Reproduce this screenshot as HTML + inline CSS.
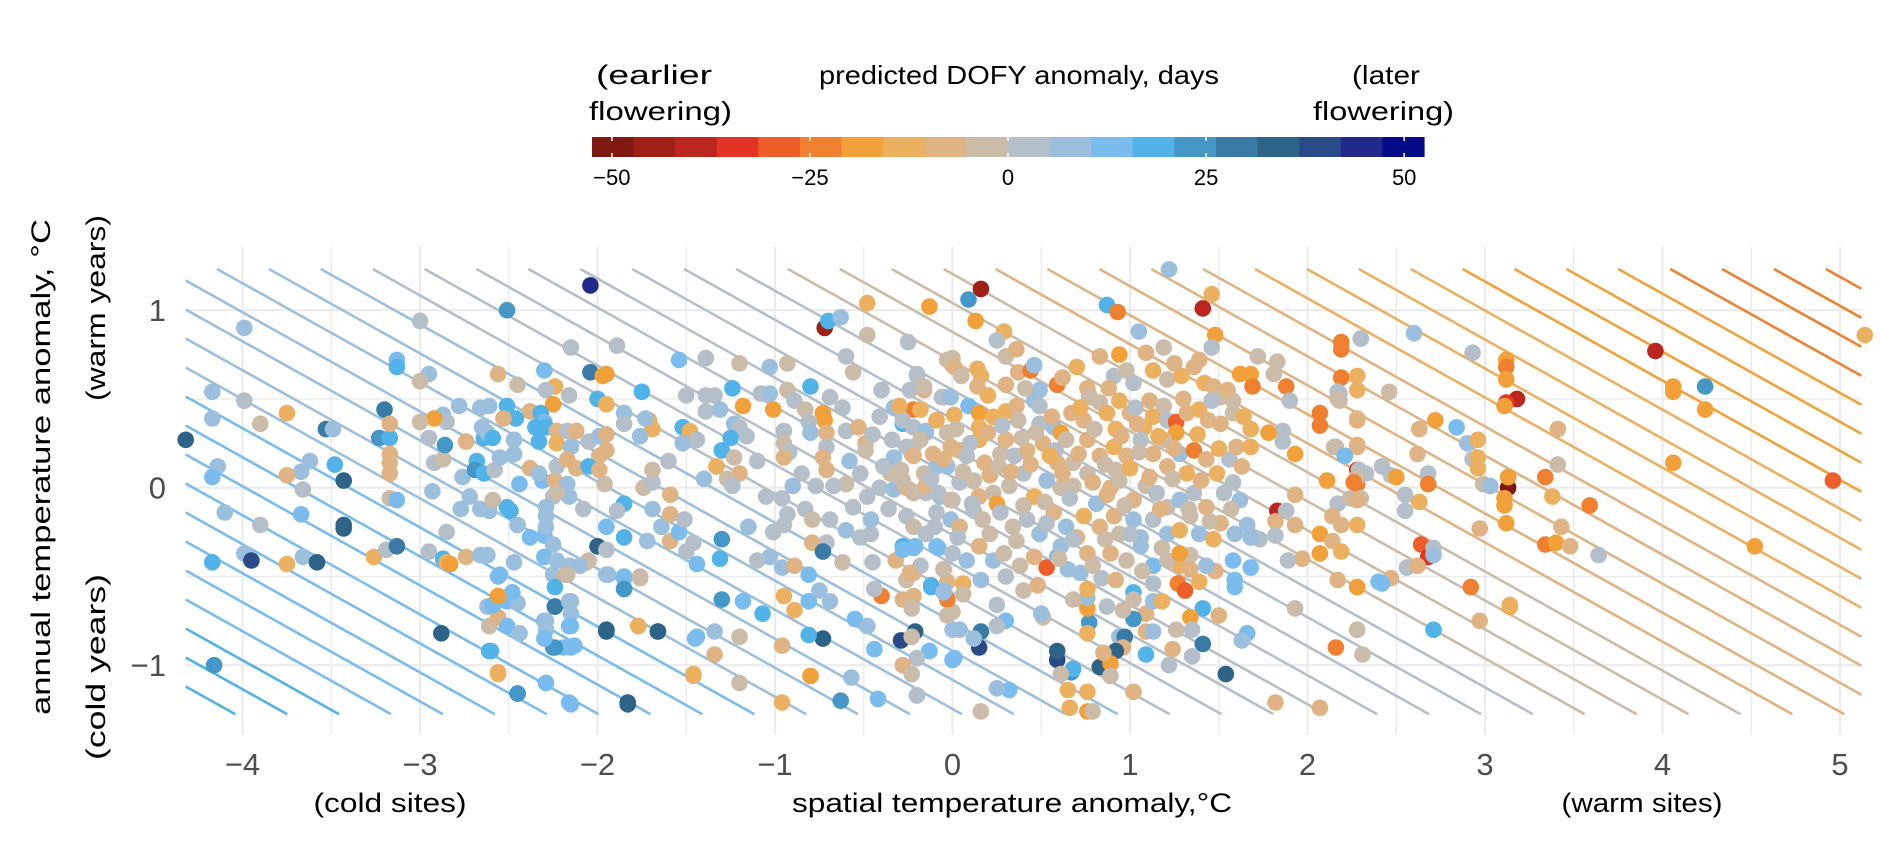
<!DOCTYPE html>
<html><head><meta charset="utf-8"><title>predicted DOFY anomaly</title>
<style>
html,body{margin:0;padding:0;background:#fff;}
svg{display:block;font-family:"Liberation Sans",Arial,sans-serif;}
</style></head>
<body>
<svg id="chart" width="1880" height="842" viewBox="0 0 1880 842" xmlns="http://www.w3.org/2000/svg">
<rect x="0" y="0" width="1880" height="842" fill="#fff"/>
<g id="legend">
<text x="1019" y="84" text-anchor="middle" font-size="26" textLength="400" lengthAdjust="spacingAndGlyphs">predicted DOFY anomaly, days</text>
<text x="596" y="84" font-size="27" textLength="116" lengthAdjust="spacingAndGlyphs">(earlier</text>
<text x="589" y="120" font-size="26" textLength="143" lengthAdjust="spacingAndGlyphs">flowering)</text>
<text x="1352" y="84" font-size="26" textLength="68" lengthAdjust="spacingAndGlyphs">(later</text>
<text x="1313" y="120" font-size="26" textLength="141" lengthAdjust="spacingAndGlyphs">flowering)</text>
<g id="colorbar"></g>
</g>
<g id="panel">
<g id="grid"></g>
<g id="contours"></g>
<g id="points"></g>
</g>
<g id="xaxis"></g>
<g id="yaxis"></g>
<text x="1012" y="812" text-anchor="middle" font-size="27" textLength="440" lengthAdjust="spacingAndGlyphs">spatial temperature anomaly,°C</text>
<text x="390" y="812" text-anchor="middle" font-size="27" textLength="153" lengthAdjust="spacingAndGlyphs">(cold sites)</text>
<text x="1642" y="812" text-anchor="middle" font-size="27" textLength="161" lengthAdjust="spacingAndGlyphs">(warm sites)</text>
<text transform="translate(50,467) rotate(-90)" text-anchor="middle" font-size="27" textLength="496" lengthAdjust="spacingAndGlyphs">annual temperature anomaly, °C</text>
<text transform="translate(105,308) rotate(-90)" text-anchor="middle" font-size="27" textLength="186" lengthAdjust="spacingAndGlyphs">(warm years)</text>
<text transform="translate(105,667) rotate(-90)" text-anchor="middle" font-size="27" textLength="186" lengthAdjust="spacingAndGlyphs">(cold years)</text>
</svg>
<script>
// ---- chart data ----
const xTicks = [-4,-3,-2,-1,0,1,2,3,4,5];
const yTicks = [-1,0,1];
const legendTicks = [-50,-25,0,25,50];
const paletteColors = ["#7e1a12","#a01f17","#bb271e","#e33324","#ee5e2b","#ef8030","#f2a13a","#ebb060","#dfb383","#cbbba9","#b5bfc9","#9bbfdc","#79bced","#52b3e8","#4597c8","#397ba5","#2d6386","#2a4a87","#22298a","#050a87"];
const legendRange = [-52.5, 52.5];
// contour model: index v = x + contourYWeight*y ; days = slope*(v - contourZero), slope differs on cool/warm side
const contourYWeight = [1.79];
const contourZero = [1.2];
const contourSlopeCool = [-2.3];
const contourSlopeWarm = [-4.3];
const contourLevels = [];
for (let k=-18;k<=32;k++) contourLevels.push(+(-1.646 + k*0.2924).toFixed(4));
// points: [spatial anomaly °C, annual anomaly °C, predicted DOFY anomaly days]
const points = [
[-3.99,0.90,8],[-3.0,0.94,1],[-4.17,0.54,8],[-3.99,0.49,3],[-4.17,0.39,8],[-3.75,0.42,-12],[-3.9,0.36,-2],[-4.32,0.27,34],[-3.53,0.33,29],[-3.49,0.33,8],[-3.2,0.44,29],[-3.23,0.28,24],[-3.17,0.28,18],[-3.17,0.36,-8],[-3.17,0.19,-8],[-3.17,0.14,-8],[-3.17,0.08,-8],[-3.17,-0.06,-3],[-3.13,-0.07,13],
[-3.62,0.15,8],[-3.67,0.09,8],[-3.75,0.07,-8],[-3.48,0.13,18],[-3.43,0.04,34],[-3.66,-0.01,2],[-4.14,0.12,8],[-4.17,0.06,13],[-4.10,-0.14,8],[-3.9,-0.21,1],[-3.67,-0.15,13],[-3.43,-0.21,34],[-3.43,-0.23,34],
[-3.99,-0.37,8],[-3.95,-0.41,39],[-4.17,-0.42,18],[-3.75,-0.43,-12],[-3.66,-0.39,8],[-3.58,-0.42,34],[-3.26,-0.39,-12],[-3.19,-0.35,1],[-3.13,-0.33,29],[-2.95,-0.36,2],[-2.87,-0.4,18],[-2.85,-0.42,-13],[-2.74,-0.39,-8],[-2.66,-0.38,8],
[-2.85,-0.25,2],[-2.93,-0.02,8],[-2.92,0.14,2],[-2.87,0.16,-3],[-2.86,0.24,24],[-2.74,0.26,-8],[-2.76,0.06,8],[-2.72,-0.05,8],[-2.77,-0.12,8],[-2.66,-0.12,8],[-2.68,0.15,18],[-2.69,0.1,24],[-2.64,0.28,18],[-2.66,0.45,8],[-2.65,0.34,8],
[-2.78,0.46,8],[-2.87,0.41,8],[-2.85,0.37,2],[-2.92,0.39,-18],[-3.0,0.37,-3],[-2.95,0.28,2],[-2.95,0.64,8],[-3.0,0.60,-3],[-3.13,0.72,13],[-3.13,0.68,18],[-2.88,-0.82,34],
[-4.16,-1.0,24],[-2.56,-1.04,-13],[-2.6,-0.92,18],[-2.45,-1.16,24],[-2.29,-1.10,13],[-2.15,-1.22,13],[-1.83,-1.22,34],[-1.95,-0.81,34],[-1.77,-0.78,-13],[-1.66,-0.81,34],[-1.46,-1.06,-8],[-1.45,-0.85,13],[-2.25,-0.90,24],[-2.19,-0.90,13],[-2.15,-0.90,13],[-2.3,-0.75,13],[-2.29,-0.8,8],[-2.24,-0.67,24],[-2.15,-0.64,8],[-2.15,-0.71,8],[-2.15,-0.78,13],[-2.51,-0.78,18],[-2.44,-0.82,8],[-2.61,-0.78,-3],[-2.56,-0.73,-8],[-2.62,-0.67,8],[-2.59,-0.67,13],[-2.56,-0.61,-18],[-2.51,-0.64,13],[-2.45,-0.65,8],[-2.48,-0.59,13],[-2.56,-0.5,13],[-2.25,-0.49,8],[-2.18,-0.49,-8],[-1.95,-0.49,8],[-1.85,-0.5,13],[-1.85,-0.57,18],[-1.76,-0.5,-3],[-2.06,-0.42,-3],[-2.83,-0.43,-18],
[-2.04,1.14,45],[-2.51,1.0,24],[-2.15,0.79,2],[-1.89,0.80,5],[-1.54,0.72,13],[-1.39,0.73,1],[-1.20,0.70,-2],[-1.03,0.68,8],[-0.93,0.70,-3],[-0.72,0.90,-44],[-0.70,0.94,18],[-0.63,0.96,8],[-0.48,1.04,-13],[-0.13,1.02,-18],[-0.48,0.86,-3],[-0.25,0.82,5],[-0.60,0.74,1],[-0.56,0.65,-3],[0.0,0.73,-3],[0.0,0.69,-12],[-0.20,0.64,2],[-0.16,0.55,-8],[-0.05,0.51,8],
[-2.56,0.64,-8],[-2.30,0.66,13],[-2.04,0.65,29],[-1.97,0.63,-18],[-1.95,0.64,-18],[-2.45,0.58,-3],[-2.24,0.57,-13],[-2.29,0.55,2],[-2.16,0.52,2],[-2.0,0.50,18],[-1.95,0.47,-12],[-1.75,0.54,18],[-2.25,0.47,-18],[-2.51,0.46,18],[-2.61,0.46,8],[-2.38,0.43,-8],[-2.46,0.39,18],[-2.53,0.39,-8],[-2.32,0.42,18],[-2.30,0.37,13],[-2.35,0.34,18],[-2.29,0.34,18],[-2.23,0.32,-8],[-2.17,0.32,2],[-2.12,0.32,-8],[-2.33,0.26,18],[-2.23,0.25,-12],[-2.15,0.23,8],[-2.05,0.26,2],[-1.99,0.29,8],[-1.95,0.30,-8],[-1.95,0.21,-8],[-1.99,0.18,-8],
[-1.85,0.42,8],[-1.85,0.36,2],[-1.71,0.38,-13],[-1.69,0.33,-13],[-1.73,0.39,8],[-1.76,0.29,8],[-1.52,0.34,18],[-1.48,0.32,-13],[-1.52,0.25,8],[-1.44,0.27,2],[-1.50,0.52,2],[-1.39,0.52,2],[-1.39,0.43,2],[-1.34,0.52,2],[-1.24,0.56,18],[-1.18,0.46,-18],[-1.31,0.44,8],[-1.23,0.36,8],[-1.20,0.34,2],[-1.16,0.29,2],[-1.25,0.28,18],[-1.30,0.21,18],[-1.23,0.17,-3],[-1.33,0.12,-12],[-1.20,0.08,-8],[-1.27,0.05,-3],[-1.24,0.01,2],
[-1.08,0.53,2],[-1.03,0.53,8],[-1.01,0.44,-18],[-0.93,0.55,-3],[-0.89,0.49,2],[-0.80,0.57,18],[-0.69,0.51,2],[-0.73,0.42,-18],[-0.72,0.38,-18],[-0.83,0.44,-3],[-0.81,0.37,2],[-0.80,0.31,8],[-0.95,0.32,2],[-0.95,0.25,-3],[-0.92,0.20,2],[-0.95,0.17,-8],[-0.71,0.31,-8],[-0.71,0.23,2],[-0.73,0.17,-8],[-0.71,0.10,-8],[-0.60,0.32,2],[-0.53,0.34,-8],[-0.49,0.25,-8],[-0.49,0.21,-3],[-0.58,0.15,8],[-0.52,0.08,2],
[-0.41,0.40,2],[-0.33,0.45,8],[-0.22,0.44,-23],[-0.28,0.36,18],[-0.22,0.34,2],[-0.15,0.32,8],[-0.09,0.38,-13],[-0.03,0.31,-8],[-0.33,0.17,8],[-0.22,0.23,2],[-0.23,0.19,-3],[-0.09,0.12,8],[0.0,0.22,-8],[-0.35,0.08,-3],[-0.29,0.10,-3],[-0.16,0.08,-3],
[-0.41,0.0,2],[-0.33,-0.01,8],[-0.26,0.0,-8],[-0.22,-0.03,-3],[-0.15,-0.03,2],[-0.07,-0.05,8],[0.0,-0.07,2],[-0.48,-0.05,2],[-0.56,-0.11,2],[-0.60,0.02,-3],[-0.67,0.01,2],[-0.77,0.01,2],[-0.90,0.01,8],[-0.96,-0.06,2],[-0.83,-0.12,2],[-0.79,-0.18,-3],[-0.69,-0.18,2],[-0.60,-0.24,8],[-0.52,-0.28,2],[-0.46,-0.26,2],[-0.71,-0.31,2],[-0.79,-0.31,-8],[-0.73,-0.36,29],[-0.95,-0.21,2],[-0.93,-0.15,2],[-1.01,-0.25,2],[-1.03,-0.39,8],[-0.96,-0.45,8],[-0.89,-0.44,-8],[-1.10,-0.41,2],[-0.81,-0.49,13],[-0.62,-0.42,-3],[-0.45,-0.42,2],[-0.32,-0.41,-8],[-0.28,-0.33,18],[-0.21,-0.33,13],[-0.22,-0.48,-8],[-0.26,-0.52,-3],[-0.12,-0.55,18],[-0.05,-0.46,2],[-0.03,-0.53,-8],[-0.05,-0.58,8],[-0.03,-0.63,-23],[0.0,-0.70,-3],[-0.22,-0.61,-8],[-0.28,-0.63,-8],[-0.23,-0.68,-3],[-0.40,-0.61,-23],[-0.44,-0.57,2],
[0.0,-0.80,8],[-0.13,-0.92,18],[0.0,-0.97,13],[-0.29,-0.86,39],[-0.21,-0.81,34],[-0.23,-0.84,-3],[-0.20,-0.96,2],[-0.28,-1.0,-8],[-0.23,-1.05,-3],[-0.20,-1.17,2],[-0.44,-0.91,13],[-0.42,-1.19,13],[-0.55,-0.74,13],[-0.48,-0.78,8],[-0.57,-1.07,8],[-0.63,-1.20,24],[-0.73,-0.85,34],[-0.81,-0.83,18],[-0.80,-1.06,-18],[-0.96,-0.89,-8],[-0.96,-1.21,-13],[-0.89,-0.69,-13],[-0.95,-0.61,-13],[-0.69,-0.64,8],[-0.81,-0.64,13],[-0.75,-0.58,8],[-1.07,-0.71,18],[-1.18,-0.64,13],[-1.30,-0.63,24],[-1.20,-0.84,-3],[-1.34,-0.81,8],[-1.44,-0.84,13],[-1.34,-0.94,-8],[-1.46,-1.05,-13],[-1.20,-1.10,-3],
[-1.31,-0.40,18],[-1.30,-0.29,24],[-1.44,-0.43,13],[-1.50,-0.36,2],[-1.46,-0.31,2],[-1.59,-0.30,-8],[-1.54,-0.25,13],[-1.64,-0.22,8],[-1.69,-0.12,8],[-1.59,-0.15,-8],[-1.51,-0.18,2],[-1.59,-0.04,-8],[-1.72,-0.30,8],[-1.85,-0.28,18],[-1.74,0.0,-3],[-1.69,0.03,2],[-1.69,0.10,-3],[-1.85,-0.09,18],[-1.89,-0.13,2],[-1.95,-0.22,13],[-2.0,-0.33,34],[-1.95,-0.35,2],[-2.05,-0.41,-3],[-1.94,-0.49,8],[-1.85,-0.51,13],[-1.85,-0.57,24],[-1.76,-0.51,-3],[-1.95,-0.80,34],[-1.77,-0.78,-13],[-1.66,-0.81,34],[-1.83,-1.21,34],
[-2.24,-0.67,29],[-2.16,-0.64,8],[-2.16,-0.78,13],[-2.24,-0.90,24],[-2.30,-0.85,13],[-2.29,-0.75,8],[-2.13,-0.89,13],[-2.29,-1.10,13],[-2.16,-1.21,13],[-2.45,-1.16,24],[-2.61,-0.92,18],[-2.56,-1.05,-13],[-2.61,-0.78,-3],[-2.56,-0.73,-8],[-2.51,-0.78,13],[-2.44,-0.82,8],[-2.59,-0.66,13],[-2.48,-0.59,13],[-2.56,-0.61,-18],[-2.55,-0.49,13],[-2.47,-0.42,8],[-2.62,-0.38,8],[-2.38,-0.28,13],[-2.30,-0.27,13],[-2.25,-0.32,8],[-2.30,-0.39,13],[-2.23,-0.41,8],[-2.24,-0.56,18],[-2.16,-0.44,8],[-2.10,-0.44,8],[-2.17,-0.49,-3],
[-2.08,-0.12,2],[-2.16,-0.05,8],[-2.25,-0.05,2],[-2.29,-0.11,8],[-2.29,-0.16,8],[-2.29,-0.22,8],[-2.49,-0.13,18],[-2.51,-0.11,18],[-2.61,-0.13,8],[-2.45,-0.21,8],[-2.59,-0.07,-3],[-2.64,0.08,18],[-2.58,0.10,2],[-2.55,0.17,8],[-2.47,0.19,8],[-2.47,0.27,8],[-2.62,0.31,8],[-2.59,0.28,18],[-2.38,0.11,-8],[-2.44,0.02,13],[-2.31,0.04,13],[-2.33,0.08,8],[-2.24,0.04,-8],[-2.23,0.12,2],[-2.17,0.16,-8],[-2.12,0.11,-8],[-2.17,0.02,8],[-2.23,-0.03,-3],[-2.05,0.12,18],[-1.99,0.10,-8],[-1.96,0.02,-3],
[1.22,1.23,8],[0.16,1.12,-44],[0.09,1.06,24],[0.13,0.94,-18],[0.29,0.88,-13],[0.25,0.83,2],[0.87,1.03,18],[0.93,0.99,-23],[1.41,1.01,-39],[1.46,1.09,-13],[1.05,0.88,8],[1.48,0.86,-18],[1.46,0.79,5],[2.19,0.82,-23],[2.19,0.78,-23],[2.30,0.84,1],[1.72,0.74,-3],[1.83,0.71,-3],[1.62,0.64,-18],[1.68,0.64,-18],[1.69,0.57,-23],[1.88,0.57,-23],[1.90,0.49,2],[1.81,0.64,-3],[2.19,0.62,-23],[2.28,0.63,-13],[2.28,0.55,-13],[2.18,0.53,2],[2.18,0.49,-3],[2.07,0.42,-23],[2.07,0.35,-23],[2.28,0.38,-13],[2.15,0.23,-3],[2.21,0.18,13],[1.93,0.19,-18],[1.86,0.32,2],[1.86,0.26,5],[1.78,0.31,-18],[2.28,0.24,-13],[2.28,0.10,-34],[2.28,0.06,-8],[2.28,0.02,-23],[2.33,0.08,2],[2.11,0.04,-18],[1.93,-0.04,-8],[1.83,-0.13,-39],[1.88,-0.13,2],[1.82,-0.19,-8],[1.93,-0.21,-8],[2.17,-0.09,2],[2.24,-0.06,-3],[2.30,-0.06,-3],[2.14,-0.16,-8],[2.19,-0.21,-8],[2.28,-0.21,-13],[2.07,-0.26,-18],[2.07,-0.37,-18],[2.14,-0.30,-8],[2.19,-0.36,-13],[1.97,-0.40,-8],[1.89,-0.41,2],[1.82,-0.27,2],[1.73,-0.29,2],[1.68,-0.28,8],[1.59,-0.26,8],[1.66,-0.21,8],[1.58,-0.41,13],[1.68,-0.45,13],[1.59,-0.52,13],[1.59,-0.56,13],[2.17,-0.52,-8],[2.28,-0.56,-18],[1.93,-0.68,-3],[2.28,-0.80,-3],[2.16,-0.90,-23],[2.31,-0.94,-3],[2.40,-0.53,13],[1.66,-0.82,13],[1.63,-0.86,8],[1.82,-1.21,-8],[2.07,-1.24,-8],[1.54,-1.05,34],[1.41,-0.88,29],[1.50,-0.72,-8],[1.41,-0.68,18],[1.34,-0.73,-18],[1.35,-0.80,2],[1.26,-0.80,-3],[1.24,-0.91,-8],[1.35,-0.95,2],[1.22,-1.0,2],[1.02,-1.15,-8],[1.09,-0.94,18],[1.09,-0.81,-8],[1.13,-0.81,8],[1.09,-0.71,-8],[1.13,-0.64,8],[1.18,-0.64,-13],[1.02,-0.74,24],[0.94,-0.84,8],[0.97,-0.84,29],[0.96,-0.90,-8],[0.92,-0.92,34],[0.83,-1.01,34],[0.89,-0.99,-18],[0.89,-1.06,-3],[0.85,-0.93,-8],[0.76,-1.15,-13],[0.76,-1.26,-18],[0.79,-1.26,-3],[0.65,-1.14,-13],[0.66,-1.24,-13],[0.59,-0.97,39],[0.59,-0.92,34],[0.67,-1.04,24],[0.68,-1.02,18],[0.61,-1.05,-3],[0.77,-0.76,24],[0.76,-0.82,-13],[0.76,-0.68,-18],[0.76,-0.62,8],[0.76,-0.57,-13],[0.51,-0.73,-3],[0.50,-0.71,8],[0.32,-1.14,13],[0.25,-1.13,8],[0.16,-1.26,-3],[0.16,-0.81,29],[0.15,-0.90,39],[0.12,-0.85,8],[0.04,-0.80,8],[0.01,-0.96,13],[-0.13,-0.92,13],[-0.20,-0.96,2],[-0.20,-1.17,2],[0.25,-0.66,2],[0.30,-0.75,13],[0.25,-0.78,2],[-0.12,-0.56,18],[-0.03,-0.63,-23],[-0.03,-0.72,-3],[0.06,-0.54,-13],[0.06,-0.60,-3],[0.16,-0.52,8],[-0.05,-0.59,8],[0.53,-0.45,-28],[0.59,-0.39,13],[0.61,-0.33,8],[0.48,-0.55,-8],[0.68,-0.63,-3],[0.65,-0.46,8],[0.72,-0.48,8],[0.87,-0.67,2],[0.84,-0.51,2],[1.02,-0.59,18],[1.02,-0.63,-3],[0.96,-0.69,-3],[1.13,-0.44,13],[1.13,-0.54,2],[1.28,-0.44,-13],[1.27,-0.54,-23],[1.31,-0.58,-28],[1.39,-0.53,-13],[1.48,-0.47,-8],[1.34,-0.38,-3],[-0.28,-0.35,13],[-0.22,-0.34,13],[-0.08,-0.34,13],[-0.18,-0.44,2],[-0.24,-0.48,-8],[-0.05,-0.46,-3],
[-0.03,0.72,-3],[0.01,0.68,-8],[0.05,0.63,-3],[0.14,0.67,-13],[0.16,0.63,-13],[0.14,0.57,-8],[0.30,0.74,-3],[0.36,0.78,-8],[0.37,0.65,-8],[0.44,0.66,-23],[0.46,0.69,8],[0.59,0.58,-23],[0.49,0.55,8],[0.76,0.56,-8],[0.77,0.52,-8],[0.83,0.74,-8],[0.91,0.63,2],[0.94,0.75,-18],[0.98,0.66,-3],[1.02,0.59,2],[1.09,0.76,-8],[1.13,0.66,-13],[1.19,0.79,-3],[1.21,0.61,-3],[1.29,0.63,-13],[1.36,0.68,-8],[1.39,0.72,-8],[1.42,0.59,-13],[1.47,0.57,-8],[1.51,0.51,-3],[1.58,0.49,-3],[-0.20,0.63,2],[-0.24,0.55,2],[-0.16,0.57,-3],[-0.06,0.51,2],[-0.01,0.51,8],
[-0.28,0.38,2],[-0.30,0.46,-13],[-0.18,0.44,-13],[-0.15,0.31,8],[-0.09,0.38,-13],[-0.03,0.31,-3],[0.01,0.41,-13],[0.09,0.46,13],[0.15,0.42,-18],[0.15,0.34,-13],[0.23,0.40,-13],[0.30,0.43,-13],[0.36,0.46,-8],[0.37,0.38,-3],[0.46,0.49,8],[0.49,0.55,8],[0.49,0.46,2],[0.49,0.36,2],[0.57,0.34,8],[0.61,0.31,-18],[0.67,0.42,-8],[0.74,0.38,-8],[0.77,0.51,-3],[0.83,0.48,-3],[0.87,0.42,-13],[0.92,0.33,-13],[0.94,0.49,-13],[1.0,0.42,-8],[1.03,0.45,2],[1.08,0.34,-13],[1.13,0.40,-13],[1.19,0.46,-3],[1.21,0.38,2],[1.26,0.37,-28],[1.26,0.31,-18],[1.32,0.42,-8],[1.39,0.44,-13],[1.46,0.49,2],[1.51,0.36,-8],[1.58,0.42,-3],[1.64,0.40,-13],[1.68,0.33,-13],
[-0.26,0.23,2],[-0.22,0.18,-8],[-0.11,0.19,-8],[-0.03,0.12,8],[-0.01,0.23,-8],[0.04,0.21,-8],[0.08,0.18,2],[0.15,0.27,-13],[0.18,0.14,-8],[0.27,0.19,-3],[0.30,0.27,-8],[0.35,0.18,2],[0.42,0.21,-8],[0.51,0.25,-8],[0.58,0.21,2],[0.59,0.14,-8],[0.68,0.14,-3],[0.76,0.27,-8],[0.83,0.18,-8],[0.91,0.23,-13],[0.92,0.10,-3],[0.98,0.18,-8],[1.06,0.27,2],[1.13,0.19,-8],[1.19,0.27,-3],[1.21,0.12,-8],[1.28,0.19,8],[1.32,0.08,-13],[1.36,0.21,-23],[1.43,0.16,-8],[1.49,0.08,-13],[1.56,0.16,2],[1.60,0.23,-8],[1.68,0.23,-13],
[-0.28,0.04,-3],[-0.22,-0.03,-3],[-0.15,0.01,-8],[-0.08,-0.03,2],[-0.01,-0.07,-3],[0.04,0.03,2],[0.12,0.04,-3],[0.15,-0.05,-8],[0.23,-0.03,-3],[0.25,-0.09,-18],[0.32,0.01,-3],[0.40,0.08,2],[0.46,-0.05,-13],[0.53,0.04,8],[0.61,0.0,-3],[0.68,0.01,-3],[0.76,0.08,-3],[0.81,-0.09,8],[0.89,0.0,-8],[0.94,0.04,-3],[1.02,-0.07,-8],[1.09,0.01,-3],[1.15,-0.03,2],[1.21,-0.11,-3],[1.28,-0.07,8],[1.36,-0.03,2],[1.43,-0.11,-8],[1.53,-0.03,2],[1.62,-0.07,8],[1.58,0.03,2],
[-0.26,-0.16,2],[-0.22,-0.22,-3],[-0.15,-0.26,2],[-0.09,-0.14,2],[-0.01,-0.18,8],[0.04,-0.22,-8],[0.12,-0.13,2],[0.17,-0.18,-3],[0.21,-0.26,-3],[0.27,-0.14,2],[0.34,-0.22,-3],[0.42,-0.18,2],[0.49,-0.26,8],[0.57,-0.14,-8],[0.64,-0.22,8],[0.70,-0.28,-8],[0.74,-0.16,-13],[0.83,-0.22,-8],[0.91,-0.16,-8],[0.94,-0.26,-3],[1.02,-0.18,8],[1.06,-0.28,8],[1.13,-0.18,2],[1.21,-0.26,8],[1.28,-0.24,-13],[1.34,-0.16,-3],[1.39,-0.26,8],[1.47,-0.29,-13],[1.51,-0.20,-8],
[-0.09,-0.33,13],[0.0,-0.37,2],[0.08,-0.41,8],[0.15,-0.33,-8],[0.23,-0.41,8],[0.29,-0.37,-3],[0.38,-0.44,-3],[0.46,-0.39,-8],[0.68,-0.29,2],[0.76,-0.37,-8],[0.79,-0.44,-3],[0.89,-0.37,-8],[0.98,-0.41,-3],[1.06,-0.33,8],[1.21,-0.41,-3],[1.28,-0.37,-18],[1.34,-0.46,-8],[1.43,-0.44,8],
[-0.18,0.27,-3],[-0.12,0.05,2],[-0.05,0.16,-8],[0.02,0.33,-3],[0.06,0.09,-3],[0.10,0.25,2],[0.11,-0.09,2],[0.20,0.31,-8],[0.21,0.07,-8],[0.26,0.12,-3],[0.28,0.35,2],[0.33,0.09,-8],[0.39,0.28,-3],[0.40,-0.10,-3],[0.44,0.13,-8],[0.47,0.31,-3],[0.52,-0.08,-3],[0.55,0.18,-13],[0.56,0.40,-8],[0.62,0.08,-8],[0.64,0.27,-3],[0.66,-0.06,2],[0.71,0.19,-8],[0.72,0.45,-13],[0.79,0.03,-8],[0.80,0.33,-3],[0.86,0.13,-3],[0.87,-0.04,-8],[0.88,0.56,-8],[0.95,0.29,-8],[0.97,-0.10,-3],[1.00,0.11,-13],[1.04,0.36,-8],[1.05,0.20,-3],[1.11,0.06,-8],[1.11,0.49,-8],[1.16,0.29,-13],[1.17,-0.12,-8],[1.24,0.05,-3],[1.25,0.22,-8],[1.30,0.50,-8],[1.33,-0.12,-3],[1.38,0.30,-13],[1.40,0.04,-8],[1.44,0.38,-8],[1.45,-0.19,-3],[1.50,0.22,-13],[1.55,0.55,-8],[1.57,-0.12,-3],[1.63,0.12,-8],[-0.34,0.27,2],[-0.39,0.12,2],[-0.45,0.30,2],[-0.36,-0.12,2],[-0.46,-0.18,8],[-0.10,-0.22,2],[0.03,-0.28,2],[0.36,-0.30,-3],[0.53,-0.20,2],[0.60,-0.40,-3],[0.86,-0.29,-3],[1.00,-0.26,2],[1.18,-0.34,-3],[0.30,-0.50,2],[0.40,-0.58,-3],[0.92,-0.52,-8],[1.07,-0.47,-3],[0.20,0.52,-13],[0.30,0.58,-8],[0.41,0.56,-3],[0.62,0.62,-8],[0.70,0.68,-13],[1.25,0.70,-8],[-0.40,0.55,2],[-0.62,0.45,2],[-0.85,0.08,2],[-1.10,0.15,2],[-1.05,-0.05,2],[-1.40,0.05,8],[-1.60,0.15,2],[-1.15,-0.22,8],
[2.30,0.84,2],[2.60,0.87,8],[2.93,0.76,5],[3.12,0.72,-18],[3.12,0.68,-23],[3.12,0.61,-18],[3.18,0.50,-39],[3.12,0.48,-34],[3.11,0.46,-18],[3.41,0.33,-8],[2.46,0.54,-3],[2.17,0.54,5],[2.17,0.50,-3],[2.28,0.39,-8],[2.28,0.23,-8],[2.16,0.23,-3],[2.21,0.18,13],[2.63,0.33,-8],[2.72,0.38,-18],[2.84,0.34,13],[2.90,0.25,8],[2.96,0.27,-13],[2.93,0.16,2],[2.96,0.17,-13],[2.96,0.11,-13],[2.99,0.02,-3],[3.03,0.01,8],[2.62,0.19,-8],[2.42,0.12,2],[2.47,0.07,2],[2.50,0.06,-18],[2.68,0.08,2],[2.68,0.02,-23],[3.13,0.0,-50],[3.13,0.06,-18],[3.11,-0.06,-18],[3.11,-0.10,-18],[3.12,-0.20,-18],[2.97,-0.23,-8],[3.34,0.06,-23],[3.38,-0.05,-13],[3.41,0.13,-3],[3.43,-0.22,-8],[3.34,-0.32,-23],[3.40,-0.31,-18],[3.48,-0.33,-8],[3.59,-0.10,-23],[3.64,-0.38,2],[2.55,-0.04,2],[2.55,-0.13,2],[2.63,-0.08,-13],[2.64,-0.32,-28],[2.68,-0.39,-34],[2.71,-0.34,2],[2.71,-0.38,8],[2.56,-0.45,2],[2.62,-0.44,-8],[2.47,-0.51,-8],[2.42,-0.54,13],[2.28,-0.56,-18],[2.92,-0.56,-23],[3.14,-0.67,-18],[2.97,-0.75,-8],[2.71,-0.80,18],[2.28,-0.80,-3],[2.29,0.10,2],[2.28,0.06,-3],[2.26,0.03,-23],[2.28,-0.07,-8],[3.14,-0.66,-13],
[3.96,0.77,-39],[4.06,0.57,-18],[4.06,0.54,-18],[4.24,0.57,24],[4.24,0.44,-18],[4.06,0.14,-18],[4.96,0.04,-28],[4.52,-0.33,-18],[5.14,0.86,-13]
];
// ---- scales ----
const X0 = 952.5, PX = 177.5, Y0 = 487.7;
function sx(x){ return X0 + PX*x; }
function sy(y){ return Y0 - PX*y; }
const panelX = [-4.32, 5.12], panelY = [-1.39, 1.357];
const lineX = [-4.32, 5.12], lineY = [-1.276, 1.232];
function colorFor(d){
  let i = Math.floor((d - legendRange[0]) / ((legendRange[1]-legendRange[0])/paletteColors.length));
  i = Math.max(0, Math.min(paletteColors.length-1, i));
  return paletteColors[i];
}
function contourDays(v){
  const dv = v - contourZero[0];
  return dv < 0 ? contourSlopeCool[0]*dv : contourSlopeWarm[0]*dv;
}
const NS = "http://www.w3.org/2000/svg";
function el(tag, attrs, parent){
  const e = document.createElementNS(NS, tag);
  for (const k in attrs) e.setAttribute(k, attrs[k]);
  parent.appendChild(e);
  return e;
}
// ---- colorbar ----
const cb = document.getElementById('colorbar');
const cbLeft = 592, cbRight = 1424, cbTop = 137, cbH = 20;
function cbx(d){ return cbLeft + (d - legendRange[0])/(legendRange[1]-legendRange[0])*(cbRight-cbLeft); }
const segW = (cbRight-cbLeft)/paletteColors.length;
paletteColors.forEach((c,i)=>{
  const r = el('rect',{x:(cbLeft+i*segW).toFixed(2),y:cbTop,width:(segW+0.6).toFixed(2),height:cbH,fill:c},cb);
  
  
});
legendTicks.forEach(t=>{
  const x = cbx(t);
  const l1 = el('line',{x1:x,x2:x,y1:cbTop,y2:cbTop+4,stroke:'#fff','stroke-width':1.5},cb);
  
  
  const l2 = el('line',{x1:x,x2:x,y1:cbTop+cbH-4,y2:cbTop+cbH,stroke:'#fff','stroke-width':1.5},cb);
  
  
  const tx = el('text',{x:x,y:185,'text-anchor':'middle','font-size':22,fill:'#000'},cb);
  tx.textContent = t<0 ? '\u2212'+Math.abs(t) : String(t);
  
  
});
// ---- grid ----
const grid = document.getElementById('grid');
for (let v=-4; v<=5.001; v+=0.5){
  const major = Math.abs(v-Math.round(v))<1e-6;
  const g = el('line',{x1:sx(v),x2:sx(v),y1:sy(panelY[1]),y2:sy(panelY[0]),stroke:'#ebebeb','stroke-width':major?2.2:1.4},grid);
  
  
}
for (let v=-1; v<=1.001; v+=0.5){
  const major = Math.abs(v-Math.round(v))<1e-6;
  const g = el('line',{x1:sx(panelX[0]),x2:sx(panelX[1]),y1:sy(v),y2:sy(v),stroke:'#ebebeb','stroke-width':major?2.2:1.4},grid);
  
  
}
// ---- contour lines ----
const cg = document.getElementById('contours');
const w = contourYWeight[0];
contourLevels.forEach(v=>{
  let xa = v - w*lineY[1], ya = lineY[1];
  if (xa < lineX[0]) { xa = lineX[0]; ya = (v - xa)/w; }
  let xb = v - w*lineY[0], yb = lineY[0];
  if (xb > lineX[1]) { xb = lineX[1]; yb = (v - xb)/w; }
  if (ya < lineY[0] || yb > lineY[1] || xa > lineX[1] || xb < lineX[0]) return;
  const ln = el('line',{x1:sx(xa).toFixed(1),y1:sy(ya).toFixed(1),x2:sx(xb).toFixed(1),y2:sy(yb).toFixed(1),stroke:colorFor(contourDays(v)),'stroke-width':2.6},cg);
  
  
});
// ---- points ----
const pg = document.getElementById('points');
points.forEach(p=>{
  const c = el('circle',{cx:sx(p[0]).toFixed(1),cy:sy(p[1]).toFixed(1),r:8.3,fill:colorFor(p[2])},pg);
  
  
});
// ---- axes ----
const xa = document.getElementById('xaxis');
xTicks.forEach(t=>{
  const tx = el('text',{x:sx(t),y:775,'text-anchor':'middle','font-size':31,fill:'#4d4d4d'},xa);
  tx.textContent = t<0 ? '\u2212'+Math.abs(t) : String(t);
  
  
});
const ya = document.getElementById('yaxis');
yTicks.forEach(t=>{
  const tx = el('text',{x:166,y:sy(t)+11,'text-anchor':'end','font-size':31,fill:'#4d4d4d'},ya);
  tx.textContent = t<0 ? '\u2212'+Math.abs(t) : String(t);
  
  
});
</script>
</body></html>
